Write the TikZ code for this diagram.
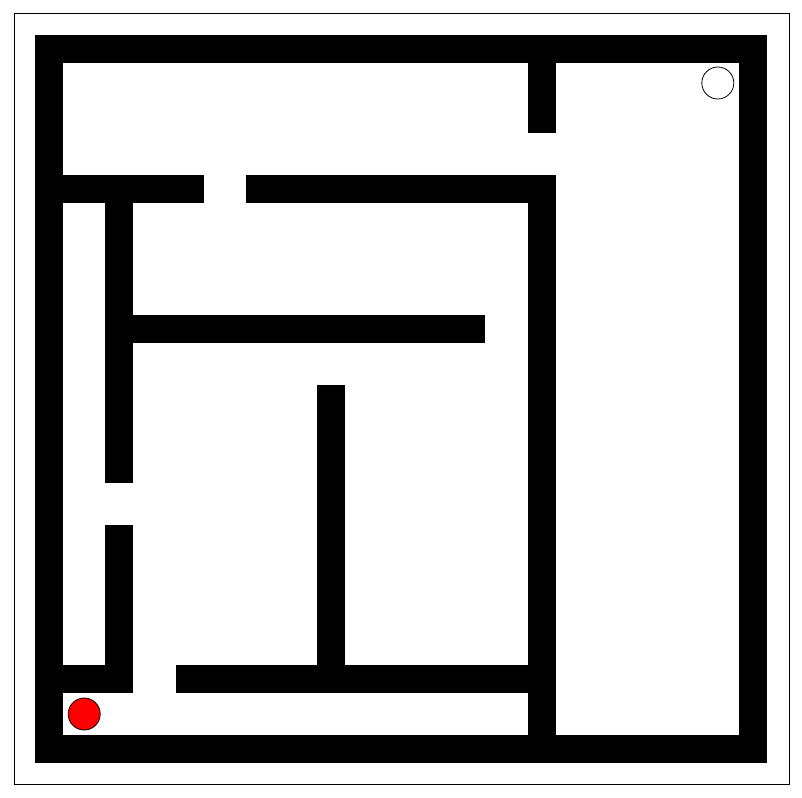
\documentclass[tikz,border=0pt]{standalone}
\begin{document}
\begin{tikzpicture}[x=1pt,y=-1pt,
  wall/.style={line width=28pt,line cap=rect,draw=black},
  frame/.style={draw=black,line width=1pt},
  ball/.style={circle,draw=black,line width=0.8pt,minimum size=32pt,inner sep=0pt}]
\useasboundingbox (0,0) rectangle (802,797);
\draw[frame] (14,14) rectangle (789,784);
% outer walls
\draw[wall,line join=miter] (49,49) rectangle (753,749);
% inner walls
\draw[wall] (541.8,49) -- (541.8,119);
\draw[wall] (49,189) -- (189.8,189);
\draw[wall] (260.2,189) -- (541.8,189);
\draw[wall] (541.8,189) -- (541.8,749);
\draw[wall] (119.4,189) -- (119.4,469);
\draw[wall] (119.4,329) -- (471.4,329);
\draw[wall] (330.6,399) -- (330.6,679);
\draw[wall] (119.4,539) -- (119.4,679);
\draw[wall] (49,679) -- (119.4,679);
\draw[wall] (189.8,679) -- (541.8,679);
% markers
\node[ball,fill=white] (goal) at (717.8,83) {};
\node[ball,fill=red] (start) at (84.2,714) {};
\end{tikzpicture}
\end{document}
